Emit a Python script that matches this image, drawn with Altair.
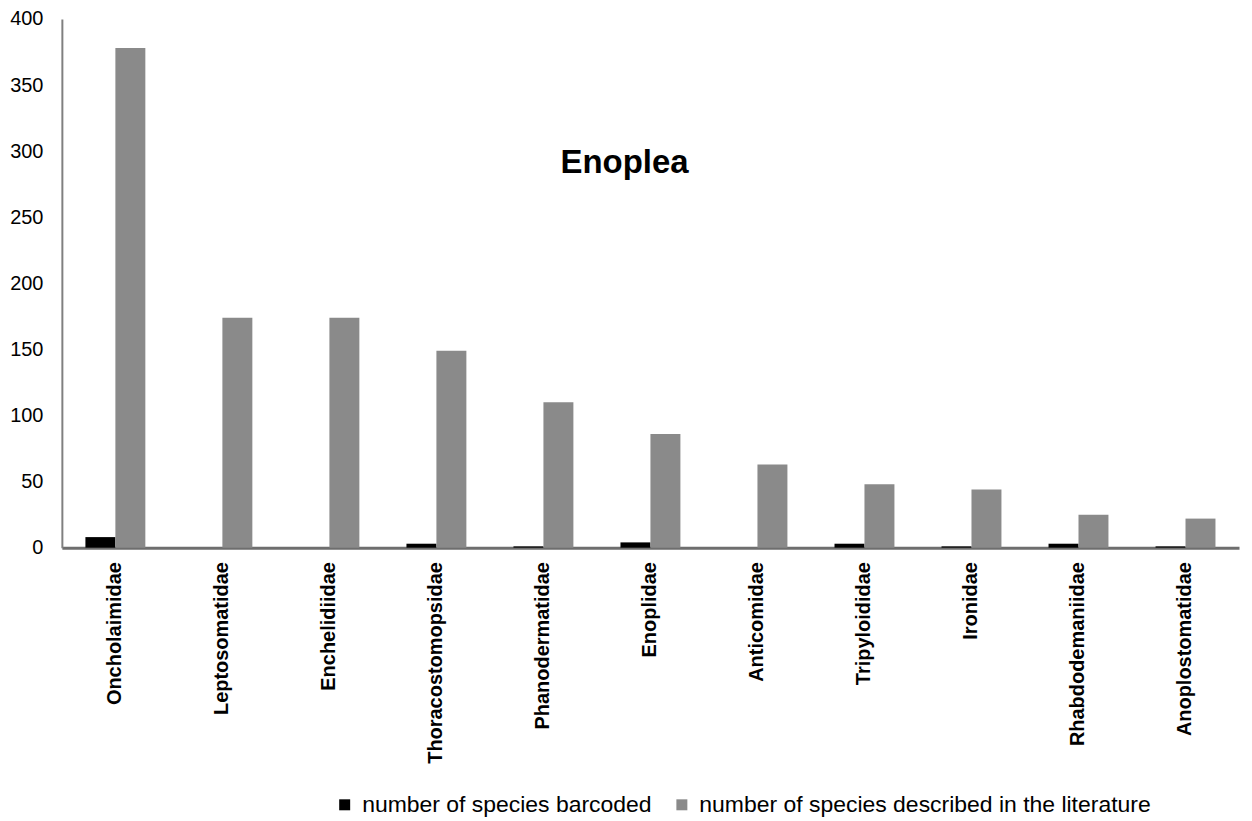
import altair as alt
import pandas as pd

families = ["Oncholaimidae", "Leptosomatidae", "Enchelidiidae", "Thoracostomopsidae",
            "Phanodermatidae", "Enoplidae", "Anticomidae", "Tripyloididae",
            "Ironidae", "Rhabdodemaniidae", "Anoplostomatidae"]
barcoded = [8, 0, 0, 3, 1, 4, 0, 3, 1, 3, 1]
described = [378, 174, 174, 149, 110, 86, 63, 48, 44, 25, 22]
series = ["number of species barcoded", "number of species described in the literature"]
colors = ["#000000", "#8a8a8a"]
y_ticks = [0, 50, 100, 150, 200, 250, 300, 350, 400]
title_text = ["Enoplea"]

rows = []
for f, b, d in zip(families, barcoded, described):
    rows.append({"family": f, "series": series[0], "value": b})
    rows.append({"family": f, "series": series[1], "value": d})
df = pd.DataFrame(rows)

FONT = "Liberation Sans"

bars = alt.Chart(df).mark_bar().encode(
    x=alt.X("family:N", sort=families,
            scale=alt.Scale(paddingInner=0.44, paddingOuter=0.22),
            axis=alt.Axis(title=None, labelAngle=-90, labelAlign="right",
                          labelBaseline="middle", labelFont=FONT, labelFontSize=20,
                          labelFontWeight="bold", labelColor="black", labelPadding=14,
                          labelLimit=400, ticks=False, tickSize=0,
                          domainColor="#6e6e6e", domainWidth=3)),
    xOffset=alt.XOffset("series:N", sort=series),
    y=alt.Y("value:Q", scale=alt.Scale(domain=[0, 400]),
            axis=alt.Axis(values=y_ticks, title=None, grid=False, ticks=False,
                          tickSize=0, labelPadding=19, labelFont=FONT,
                          labelFontSize=20, labelColor="black",
                          domainColor="#808080", domainWidth=2)),
    color=alt.Color("series:N", sort=series,
                    scale=alt.Scale(domain=series, range=colors),
                    legend=alt.Legend(title=None, orient="none", legendX=272,
                                      legendY=776, direction="horizontal",
                                      symbolType="square", symbolSize=121,
                                      symbolStrokeWidth=0, labelFont=FONT,
                                      labelFontSize=23, labelColor="black",
                                      labelOffset=6,
                                      columnPadding=18, labelLimit=700)),
)

title = alt.Chart(pd.DataFrame({"t": title_text})).mark_text(
    font=FONT, fontSize=33, fontWeight="bold", color="black"
).encode(text="t:N", x=alt.value(564), y=alt.value(144))

chart = alt.layer(bars, title).properties(
    width=1180, height=530,
    padding={"left": 1, "top": 0, "right": 5, "bottom": 5},
).configure_view(stroke=None)

chart.save("out.html", embed_options={"renderer": "svg", "actions": False})
